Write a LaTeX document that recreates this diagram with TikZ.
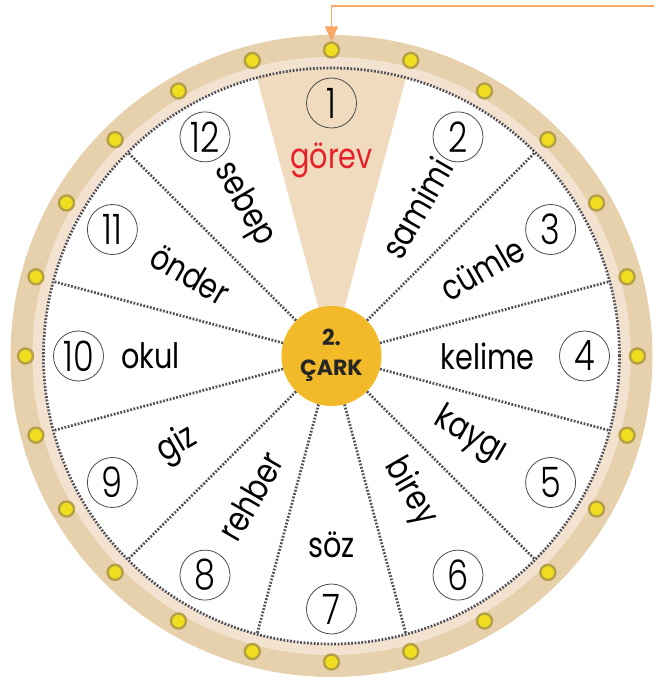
\documentclass[tikz,border=0pt]{standalone}
\usepackage{fontspec}
\setmainfont{Poppins}
\newfontfamily\wordfont{Poppins}[FakeStretch=0.82]
\IfFontExistsTF{Poppins Light}
  {\newfontfamily\numfont{Poppins Light}[FakeStretch=0.8]}
  {\newfontfamily\numfont{Poppins}[FakeStretch=0.8]}
\usetikzlibrary{arrows.meta}

\definecolor{ringtan}{RGB}{230,209,172}
\definecolor{ringlight}{RGB}{243,226,208}
\definecolor{wedgetan}{RGB}{240,219,190}
\definecolor{hubgold}{RGB}{242,185,40}
\definecolor{studyellow}{RGB}{240,222,30}
\definecolor{studrim}{RGB}{180,160,70}
\definecolor{dotgray}{RGB}{80,80,88}
\definecolor{arroworange}{RGB}{248,168,98}
\definecolor{wordred}{RGB}{232,32,40}

\begin{document}
\begin{tikzpicture}[x=1pt,y=1pt,
  dotline/.style={dotgray,line width=2.7pt,dash pattern=on 1.8pt off 1.6pt},
  numcircle/.style={circle,draw=black!70,line width=0.8pt,minimum size=50pt,
    inner sep=0pt,font=\numfont\fontsize{42}{42}\selectfont},
  word/.style={inner sep=0pt,font=\wordfont\fontsize{35}{35}\selectfont},
  stud/.style={circle,fill=studyellow,draw=studrim,line width=2.4pt,
    minimum size=15pt,inner sep=0pt}]

\useasboundingbox (-331.5,-327) rectangle (322.5,356);

% === rim and face ===
\fill[ringtan,even odd rule] (0,0) circle (321) (0,0) circle (288);
\fill[ringlight,even odd rule] (0,0) circle (299) (0,0) circle (288);
\fill[white] (0,0) circle (288);
% segment 1
\fill[wedgetan] (0,0) -- (75:288) arc (75:105:288) -- cycle;

% hub
\node[circle,fill=hubgold,minimum size=100pt,inner sep=0pt] (hub) at (0,0) {};

% dividers
\foreach \a in {15,45,135,165,195,225,255,285,315,345} {
  \draw[dotline] (hub.\a) -- (\a:288);
}
\draw[dotline] (0,0) circle (288);

% studs
\foreach \i in {0,...,23} {
  \node[stud] (stud-\i) at ({90+15*\i}:306) {};
}

% === numbers and words ===
\foreach \n in {1,...,12} {
  \node[numcircle] (num-\n) at ({120-30*\n}:253) {\n};
}
\foreach \w/\r/\rot [count=\n] in {{\textcolor{wordred}{görev}}/196/0,
    samimi/171/60, cümle/174/30, kelime/156/0, kaygı/160/-30,
    birey/157/-60, söz/189/0, rehber/162/60, giz/178/30,
    okul/181/0, önder/163/-30, sebep/175/-60} {
  \node[word,rotate=\rot] (word-\n) at ({120-30*\n}:\r) {\w};
}

% hub text
\node[anchor=base,text=black!85,font=\bfseries\fontsize{22}{22}\selectfont]
  (hub-top) at (0,11) {2.};
\node[anchor=base,text=black!85,font=\bfseries\fontsize{22}{22}\selectfont]
  (hub-bottom) at (0,-19) {ÇARK};

% pointer
\coordinate (arrow-start) at (322.5,350);
\draw[arroworange,line width=1.8pt,-{Triangle[length=15pt,width=13pt]}]
  (arrow-start) -| (stud-0.north);

\end{tikzpicture}
\end{document}
